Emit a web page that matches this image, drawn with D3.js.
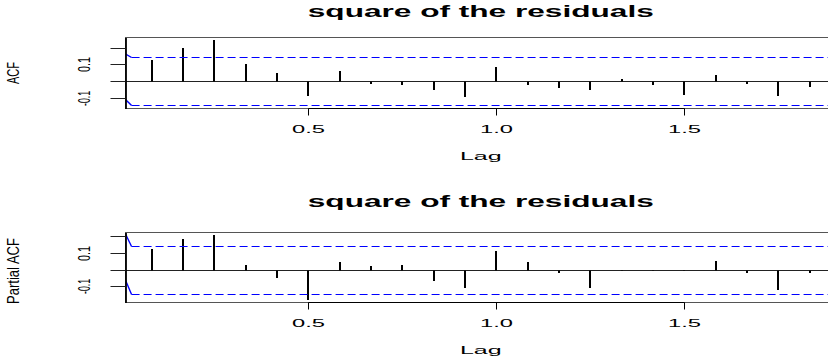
<!DOCTYPE html>
<html>
<head>
<meta charset="utf-8">
<script src="https://cdn.jsdelivr.net/npm/d3@7"></script>
<style>
  body { margin: 0; background: #fff; }
  svg { display: block; font-family: "Liberation Sans", Arial, sans-serif; }
</style>
</head>
<body>
<svg id="chart" width="828" height="364"></svg>
<script>
// lags in months (frequency 12), plotted as lag / 12
const lagMonths = [1, 2, 3, 4, 5, 6, 7, 8, 9, 10, 11, 12, 13, 14, 15, 16, 17, 18, 19, 20, 21, 22]
const acfValues = [0.128, 0.204, 0.248, 0.108, 0.054, -0.086, 0.062, -0.012, -0.022, -0.052, -0.092,
  0.086, -0.022, -0.036, -0.048, 0.014, -0.022, -0.078, 0.040, -0.012, -0.086, -0.032]
const pacfValues = [0.130, 0.190, 0.211, 0.032, -0.047, -0.179, 0.047, 0.028, 0.032, -0.065, -0.109,
  0.113, 0.050, -0.018, -0.105, -0.006, -0.004, -0.004, 0.054, -0.018, -0.120, -0.020]
const ciLevel = 0.144

// blue bounds: short slanted start, then flat at the confidence level
const bandLags = [0.0114, 0.0295, 1.95]
const acfBandUpper = [0.168, 0.144, 0.144]
const acfBandLower = [-0.102, -0.144, -0.144]
const pacfBandUpper = [0.227, 0.144, 0.144]
const pacfBandLower = [-0.050, -0.146, -0.146]

const xTicks = [0.5, 1.0, 1.5]
const yTicks = [-0.1, 0, 0.1, 0.2]
const yTickLabels = ["-0.1", "", "0.1", ""]

const titleText = "square of the residuals"
const xLabel = "Lag"

const svg = d3.select("#chart")
const left = 125.5
const right = 836

// snap a coordinate to the middle of a pixel so 1px lines stay crisp
const crisp = (v) => Math.round(v - 0.5) + 0.5

const lags = lagMonths.map((m) => m / 12)
const lagSpan = lags[lags.length - 1] - lags[0]
const x = d3
  .scaleLinear()
  .domain([lags[0] - 0.04 * lagSpan, lags[lags.length - 1] + 0.04 * lagSpan])
  .range([left, right])

const panels = [
  {top: 37.5, bottom: 108.5, titleY: 16.7, values: acfValues, ylab: "ACF", ylabLen: 22,
    upper: acfBandUpper, lower: acfBandLower},
  {top: 232.5, bottom: 302.5, titleY: 206.7, values: pacfValues, ylab: "Partial ACF", ylabLen: 66,
    upper: pacfBandUpper, lower: pacfBandLower}
]

panels.forEach((p, i) => {
  const lo = Math.min(d3.min(p.values), -ciLevel)
  const hi = Math.max(d3.max(p.values), ciLevel)
  const pad = 0.04 * (hi - lo)
  const y = d3.scaleLinear().domain([lo - pad, hi + pad]).range([p.bottom, p.top])

  const g = svg.append("g").attr("class", "panel")

  g.append("clipPath")
    .attr("id", "clip" + i)
    .append("rect")
    .attr("x", left)
    .attr("y", p.top)
    .attr("width", right - left)
    .attr("height", p.bottom - p.top)

  // zero line
  g.append("line")
    .attr("x1", left)
    .attr("x2", right)
    .attr("y1", crisp(y(0)))
    .attr("y2", crisp(y(0)))
    .attr("stroke", "#222")
    .attr("stroke-width", 1)

  // spikes
  g.selectAll("line.spike")
    .data(lags)
    .join("line")
    .attr("class", "spike")
    .attr("x1", (d) => Math.round(x(d)))
    .attr("x2", (d) => Math.round(x(d)))
    .attr("y1", crisp(y(0)))
    .attr("y2", (d, k) => Math.round(y(p.values[k])))
    .attr("stroke", "#000")
    .attr("stroke-width", 2)

  // confidence bounds
  const band = g.append("g").attr("clip-path", `url(#clip${i})`)
  ;[p.upper, p.lower].forEach((vals) => {
    const pts = bandLags.map((l, k) => [x(l), k === 0 ? y(vals[k]) : crisp(y(vals[k]))])
    band.append("path")
      .attr("d", d3.line()(pts.slice(0, 2)))
      .attr("fill", "none")
      .attr("stroke", "#0000ff")
      .attr("stroke-width", 1.4)
    band.append("path")
      .attr("d", d3.line()(pts.slice(1)))
      .attr("fill", "none")
      .attr("stroke", "#0000ff")
      .attr("stroke-width", 1.1)
      .attr("stroke-dasharray", "8,4")
  })

  // box
  g.append("rect")
    .attr("x", left)
    .attr("y", p.top)
    .attr("width", right - left)
    .attr("height", p.bottom - p.top)
    .attr("fill", "none")
    .attr("stroke", "#555")
    .attr("stroke-width", 1)

  // y axis
  const yaxis = g.append("g")
    .attr("transform", `translate(${left},0)`)
    .call(
      d3.axisLeft(y)
        .tickValues(yTicks)
        .tickSize(15)
        .tickSizeOuter(0)
        .tickFormat((d, k) => yTickLabels[k])
    )
  yaxis.select(".domain").attr("stroke", "#000").attr("stroke-width", 1.8)
  yaxis.selectAll(".tick").attr("transform", (d) => `translate(0,${crisp(y(d))})`)
  yaxis.selectAll(".tick line").attr("stroke", "#222")
  yaxis.selectAll(".tick text")
    .attr("x", null)
    .attr("dy", null)
    .attr("fill", "#000")
    .attr("font-size", 12)
    .attr("font-family", "Liberation Sans, Arial, sans-serif")
    .attr("text-anchor", "middle")
    .attr("textLength", function() { return this.textContent ? 15 : null })
    .attr("lengthAdjust", "spacingAndGlyphs")
    .attr("transform", "translate(-35.5,0) scale(1.32,1) rotate(-90)")

  // x axis
  const xaxis = g.append("g")
    .attr("transform", `translate(0,${p.bottom})`)
    .call(
      d3.axisBottom(x)
        .tickValues(xTicks)
        .tickSize(7)
        .tickSizeOuter(0)
        .tickFormat(d3.format(".1f"))
    )
  xaxis.select(".domain").remove()
  xaxis.selectAll(".tick").attr("transform", (d) => `translate(${crisp(x(d))},0)`)
  xaxis.selectAll(".tick line").attr("stroke", "#000")
  xaxis.selectAll(".tick text")
    .attr("y", 24.5)
    .attr("dy", null)
    .attr("fill", "#000")
    .attr("font-size", 10.5)
    .attr("font-family", "Liberation Sans, Arial, sans-serif")
    .attr("textLength", 33)
    .attr("lengthAdjust", "spacingAndGlyphs")
  xaxis.append("line")
    .attr("x1", crisp(x(xTicks[0])))
    .attr("x2", crisp(x(xTicks[xTicks.length - 1])))
    .attr("stroke", "#000")
    .attr("stroke-width", 1)

  // title
  g.append("text")
    .attr("x", (left + right) / 2)
    .attr("y", p.titleY)
    .attr("text-anchor", "middle")
    .attr("font-size", 16.5)
    .attr("font-weight", "bold")
    .attr("textLength", 346)
    .attr("lengthAdjust", "spacingAndGlyphs")
    .text(titleText)

  // x label
  g.append("text")
    .attr("x", (left + right) / 2)
    .attr("y", p.bottom + 51.7)
    .attr("text-anchor", "middle")
    .attr("font-size", 11.5)
    .attr("textLength", 41.7)
    .attr("lengthAdjust", "spacingAndGlyphs")
    .text(xLabel)

  // y label
  g.append("text")
    .attr("text-anchor", "middle")
    .attr("font-size", 12)
    .attr("textLength", p.ylabLen)
    .attr("lengthAdjust", "spacingAndGlyphs")
    .attr("transform", `translate(19,${(p.top + p.bottom) / 2 + (i ? 3.5 : 0)}) scale(1.32,1) rotate(-90)`)
    .text(p.ylab)
})
</script>
</body>
</html>
